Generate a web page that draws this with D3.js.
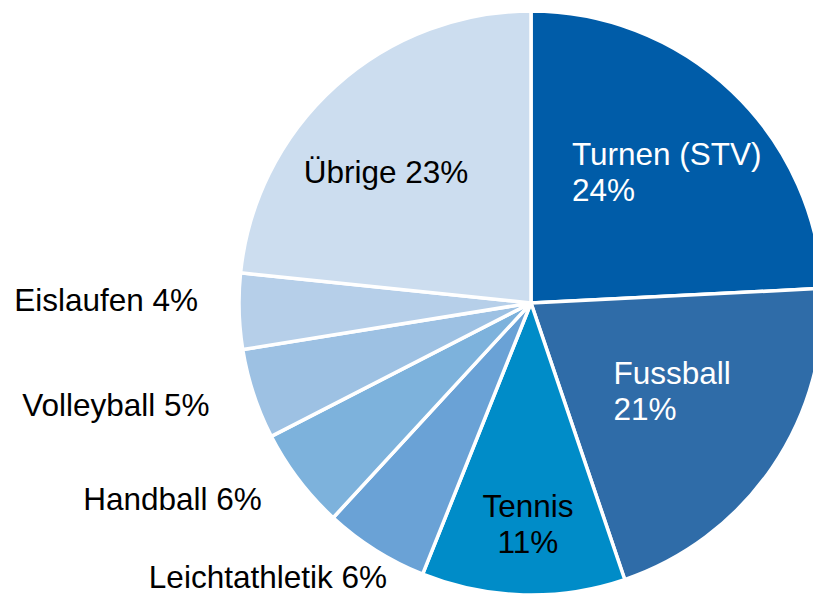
<!DOCTYPE html>
<html>
<head>
<meta charset="utf-8">
<script src="https://cdn.jsdelivr.net/npm/d3@7"></script>
<style>
  body { margin: 0; background: #fff; }
  svg { display: block; }
</style>
</head>
<body>
<div id="chart"></div>
<script>
var svgWidth = 813;
var svgHeight = 594;

// data (slice sizes estimated from the slice edges)
var sports = ["Turnen (STV)", "Fussball", "Tennis", "Leichtathletik", "Handball", "Volleyball", "Eislaufen", "Übrige"];
var shares = [24.2, 20.6, 11.25, 5.8, 5.6, 5.0, 4.2, 23.35];
var colors = ["#005ca8", "#2f6ca8", "#008cc8", "#6aa2d6", "#7db2dc", "#9dc1e3", "#b6cfe9", "#ccddef"];

// label layout: inside/outside, line breaks, alignment, small nudges
var labelMode = ["in", "in", "in", "out", "out", "out", "out", "in"];
var labelLines = [["Turnen (STV)", "24%"], ["Fussball", "21%"], ["Tennis", "11%"], ["Leichtathletik 6%"],
                  ["Handball 6%"], ["Volleyball 5%"], ["Eislaufen 4%"], ["Übrige 23%"]];
var labelAlign = ["start", "start", "middle", "end", "end", "end", "end", "middle"];
var labelNudge = [[4, 8], [-17, -20], [2, 30], [33, -7], [-5, -5], [-6, -2], [-1, -12], [-17, 11]];
var labelFill = ["#fff", "#fff", "#000", "#000", "#000", "#000", "#000", "#000"];

var cx = 531, cy = 303, radius = 292;
var fontSize = 31.5, lineHeight = 36, capHalf = 11;

var svg = d3.select("#chart")
    .append("svg")
    .attr("width", svgWidth)
    .attr("height", svgHeight)
    .style("font-family", "'Liberation Sans', Arial, sans-serif");

var pieGroup = svg.append("g")
    .attr("transform", `translate(${cx}, ${cy})`);

var table = sports.map(function(s, i) { return { name: s, value: shares[i], i: i }; });

var pie = d3.pie()
    .sort(null)
    .value(d => d.value);

var arc = d3.arc()
    .innerRadius(0)
    .outerRadius(radius);

var arcs = pie(table);

pieGroup.selectAll("path")
    .data(arcs)
    .enter()
    .append("path")
    .attr("d", arc)
    .attr("fill", d => colors[d.data.i])
    .attr("stroke", "#fff")
    .attr("stroke-width", 3.5)
    .attr("stroke-linejoin", "round");

var inArc = d3.arc().innerRadius(radius * 0.655).outerRadius(radius * 0.655);
var outArc = d3.arc().innerRadius(radius + 40).outerRadius(radius + 40);

arcs.forEach(function(d) {
    var i = d.data.i;
    var p = labelMode[i] == "in" ? inArc.centroid(d) : outArc.centroid(d);
    var x = p[0] + labelNudge[i][0];
    var y = p[1] + labelNudge[i][1];
    var lines = labelLines[i];

    var text = pieGroup.append("text")
        .attr("font-size", fontSize)
        .attr("fill", labelFill[i])
        .attr("text-anchor", labelAlign[i]);

    var tspans = lines.map(function(line, k) {
        return text.append("tspan")
            .attr("y", y - (lines.length - 1) * lineHeight / 2 + capHalf + k * lineHeight)
            .text(line);
    });

    // left-aligned blocks: centre the widest line on the anchor
    if (labelAlign[i] == "start") {
        var w = d3.max(tspans, t => t.node().getComputedTextLength());
        tspans.forEach(t => t.attr("x", x - w / 2));
    } else {
        tspans.forEach(t => t.attr("x", x));
    }
});
</script>
</body>
</html>
